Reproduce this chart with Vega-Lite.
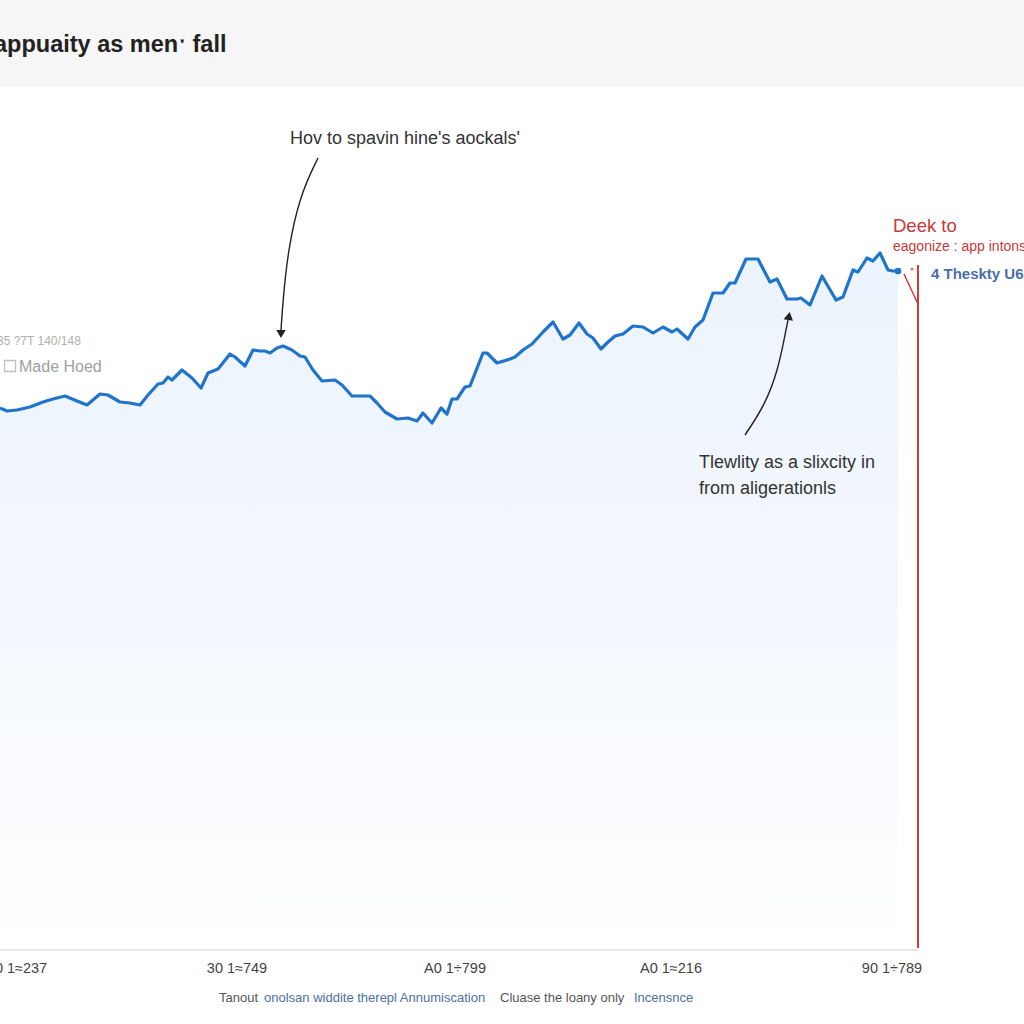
{
  "$schema": "https://vega.github.io/schema/vega-lite/v6.json",
  "width": 1024,
  "height": 1024,
  "autosize": {"type": "none"},
  "padding": 0,
  "background": "#ffffff",
  "config": {"view": {"stroke": null}, "font": "Liberation Sans"},
  "datasets": {
    "series": [
      {"x":0,"y":54.2},{"x":0.7,"y":53.9},{"x":1.7,"y":54.0},{"x":3.0,"y":54.3},{"x":4.3,"y":54.8},{"x":5.3,"y":55.1},{"x":6.5,"y":55.4},{"x":7.7,"y":54.9},{"x":8.7,"y":54.5},{"x":10.0,"y":55.6},{"x":10.8,"y":55.5},{"x":12.0,"y":54.8},{"x":13.0,"y":54.7},{"x":14.0,"y":54.5},{"x":14.8,"y":55.5},{"x":15.8,"y":56.6},{"x":16.3,"y":56.7},{"x":16.8,"y":57.3},{"x":17.2,"y":57.0},{"x":18.2,"y":58.0},{"x":19.2,"y":57.2},{"x":20.1,"y":56.2},{"x":20.8,"y":57.7},{"x":21.8,"y":58.1},{"x":23.0,"y":59.6},{"x":23.5,"y":59.3},{"x":24.5,"y":58.4},{"x":25.3,"y":60.0},{"x":26.0,"y":59.9},{"x":26.5,"y":59.9},{"x":27.0,"y":59.7},{"x":27.7,"y":60.2},{"x":28.3,"y":60.4},{"x":29.2,"y":60.0},{"x":30.0,"y":59.4},{"x":30.5,"y":59.3},{"x":31.3,"y":58.0},{"x":32.2,"y":56.9},{"x":33.5,"y":57.0},{"x":34.2,"y":56.5},{"x":35.2,"y":55.4},{"x":36.0,"y":55.4},{"x":37.0,"y":55.4},{"x":37.7,"y":54.7},{"x":38.5,"y":53.8},{"x":39.7,"y":53.1},{"x":40.8,"y":53.2},{"x":41.7,"y":52.9},{"x":42.3,"y":53.7},{"x":43.2,"y":52.7},{"x":44.1,"y":54.2},{"x":44.7,"y":53.6},{"x":45.2,"y":55.1},{"x":45.7,"y":55.1},{"x":46.5,"y":56.3},{"x":47.0,"y":56.4},{"x":48.3,"y":59.7},{"x":48.7,"y":59.7},{"x":49.7,"y":58.7},{"x":51.0,"y":59.1},{"x":51.5,"y":59.3},{"x":52.3,"y":60.0},{"x":53.2,"y":60.6},{"x":54.3,"y":61.8},{"x":55.3,"y":62.8},{"x":56.3,"y":61.1},{"x":57.0,"y":61.5},{"x":57.9,"y":62.7},{"x":58.7,"y":61.6},{"x":59.3,"y":61.2},{"x":60.1,"y":60.1},{"x":60.8,"y":60.8},{"x":61.5,"y":61.4},{"x":62.3,"y":61.6},{"x":63.3,"y":62.4},{"x":64.3,"y":62.3},{"x":65.3,"y":61.7},{"x":66.3,"y":62.3},{"x":67.2,"y":61.8},{"x":67.7,"y":62.1},{"x":68.8,"y":61.1},{"x":69.5,"y":62.3},{"x":70.3,"y":63.0},{"x":71.3,"y":65.7},{"x":72.3,"y":65.7},{"x":73.0,"y":66.7},{"x":73.5,"y":66.7},{"x":74.6,"y":69.1},{"x":75.8,"y":69.1},{"x":77.0,"y":66.8},{"x":77.7,"y":67.1},{"x":78.7,"y":65.1},{"x":79.7,"y":65.1},{"x":80.1,"y":65.2},{"x":81.0,"y":64.5},{"x":82.2,"y":67.4},{"x":83.6,"y":65.0},{"x":84.3,"y":65.3},{"x":85.3,"y":68.0},{"x":85.8,"y":67.8},{"x":86.7,"y":69.2},{"x":87.3,"y":68.9},{"x":88.0,"y":69.7},{"x":88.8,"y":68.0},{"x":89.3,"y":67.9},{"x":89.8,"y":67.9}
    ],
    "arrow1": [
      {"x":31.8,"y":79.2,"o":1},{"x":30.0,"y":75.5,"o":2},{"x":28.8,"y":70.0,"o":3},{"x":28.3,"y":65.0,"o":4},{"x":28.1,"y":62.0,"o":5}
    ],
    "arrow2": [
      {"x":74.5,"y":51.5,"o":1},{"x":76.5,"y":54.5,"o":2},{"x":77.8,"y":58.0,"o":3},{"x":78.5,"y":61.5,"o":4},{"x":78.8,"y":63.0,"o":5}
    ]
  },
  "encoding": {
    "x": {"field": "x", "type": "quantitative", "scale": {"domain": [0, 102.4], "nice": false, "zero": false}, "axis": null},
    "y": {"field": "y", "type": "quantitative", "scale": {"domain": [-7.4, 95], "nice": false, "zero": false}, "axis": null}
  },
  "layer": [
    {
      "data": {"values": [{"x": -1, "x2": 104, "y": 86.3, "y2": 96}]},
      "mark": {"type": "rect", "color": "#f6f6f6"},
      "encoding": {"x2": {"field": "x2"}, "y2": {"field": "y2"}}
    },
    {
      "data": {"name": "series"},
      "mark": {"type": "area", "interpolate": "linear", "color": {"gradient": "linear", "x1": 0, "y1": 0, "x2": 0, "y2": 1, "stops": [{"offset": 0, "color": "#ebf3fc"}, {"offset": 0.6, "color": "#f6f9fe"}, {"offset": 1, "color": "#ffffff"}]}},
      "encoding": {"y2": {"datum": 0}}
    },
    {
      "data": {"name": "series"},
      "mark": {"type": "line", "color": "#1f74cc", "strokeWidth": 3.2, "strokeJoin": "round"},
      "encoding": {}
    },
    {
      "data": {"values": [{"x": 89.8, "y": 67.9}]},
      "mark": {"type": "point", "filled": true, "color": "#1f74cc", "size": 45, "opacity": 1},
      "encoding": {}
    },
    {
      "data": {"values": [{"x": 0, "x2": 91.8, "y": 0, "y2": 0}]},
      "mark": {"type": "rule", "color": "#cfcfcf", "strokeWidth": 1.2},
      "encoding": {"x2": {"field": "x2"}}
    },
    {
      "data": {"values": [{"x": 91.8, "y": 68.5, "y2": 0.2}]},
      "mark": {"type": "rule", "color": "#d23a3a", "strokeWidth": 2},
      "encoding": {"y2": {"field": "y2"}}
    },
    {
      "data": {"values": [{"x": 90.4, "y": 67.6, "x2": 91.8, "y2": 64.6}]},
      "mark": {"type": "rule", "color": "#d23a3a", "strokeWidth": 1.5},
      "encoding": {"x2": {"field": "x2"}, "y2": {"field": "y2"}}
    },
    {
      "data": {"values": [{"x": 91.2, "y": 68.1}]},
      "mark": {"type": "point", "filled": true, "color": "#d23a3a", "size": 10},
      "encoding": {}
    },
    {
      "data": {"name": "arrow1"},
      "mark": {"type": "line", "interpolate": "basis", "color": "#222222", "strokeWidth": 1.4},
      "encoding": {"order": {"field": "o"}}
    },
    {
      "data": {"name": "arrow2"},
      "mark": {"type": "line", "interpolate": "basis", "color": "#222222", "strokeWidth": 1.4},
      "encoding": {"order": {"field": "o"}}
    },
    {
      "data": {"values": [{"x": 28.1, "y": 61.6}]},
      "mark": {"type": "point", "shape": "triangle-down", "filled": true, "color": "#222222", "size": 90, "opacity": 1},
      "encoding": {}
    },
    {
      "data": {"values": [{"x": 78.9, "y": 63.4}]},
      "mark": {"type": "point", "shape": "triangle-up", "filled": true, "color": "#222222", "size": 90, "opacity": 1, "angle": 10},
      "encoding": {}
    },
    {
      "data": {"values": [{"x": 1.0, "y": 58.4}]},
      "mark": {"type": "point", "shape": "square", "filled": false, "color": "#a8a8a8", "size": 120, "strokeWidth": 1.3},
      "encoding": {}
    },
    {
      "data": {"values": [{"x": -0.6, "y": 89.8, "t": "appuaity as men\u02d1 fall"}]},
      "mark": {"type": "text", "align": "left", "baseline": "alphabetic", "fontSize": 23.5, "fontWeight": "bold", "color": "#222222"},
      "encoding": {"text": {"field": "t"}}
    },
    {
      "data": {"values": [
        {"x": 29.0, "y": 80.6, "t": "Hov to spavin hine's aockals'"},
        {"x": 69.9, "y": 48.2, "t": "Tlewlity as a slixcity in"},
        {"x": 69.9, "y": 45.6, "t": "from aligerationls"}
      ]},
      "mark": {"type": "text", "align": "left", "baseline": "alphabetic", "fontSize": 18, "color": "#333333"},
      "encoding": {"text": {"field": "t"}}
    },
    {
      "data": {"values": [{"x": 89.3, "y": 71.8, "t": "Deek to"}]},
      "mark": {"type": "text", "align": "left", "baseline": "alphabetic", "fontSize": 18.5, "color": "#c83a3a"},
      "encoding": {"text": {"field": "t"}}
    },
    {
      "data": {"values": [{"x": 89.3, "y": 69.9, "t": "eagonize : app intons"}]},
      "mark": {"type": "text", "align": "left", "baseline": "alphabetic", "fontSize": 14, "color": "#c83a3a"},
      "encoding": {"text": {"field": "t"}}
    },
    {
      "data": {"values": [{"x": 93.1, "y": 67.1, "t": "4 Theskty U6"}]},
      "mark": {"type": "text", "align": "left", "baseline": "alphabetic", "fontSize": 15, "fontWeight": "bold", "color": "#4a6fa8"},
      "encoding": {"text": {"field": "t"}}
    },
    {
      "data": {"values": [{"x": -0.3, "y": 60.5, "t": "35 ?7T 140/148"}]},
      "mark": {"type": "text", "align": "left", "baseline": "alphabetic", "fontSize": 12, "color": "#b0b0b0"},
      "encoding": {"text": {"field": "t"}}
    },
    {
      "data": {"values": [{"x": 1.9, "y": 57.8, "t": "Made Hoed"}]},
      "mark": {"type": "text", "align": "left", "baseline": "alphabetic", "fontSize": 16, "color": "#a0a0a0"},
      "encoding": {"text": {"field": "t"}}
    },
    {
      "data": {"values": [
        {"x": 1.7, "y": -2.3, "t": "30 1\u2248237"},
        {"x": 23.7, "y": -2.3, "t": "30 1\u2248749"},
        {"x": 45.5, "y": -2.3, "t": "A0 1\u00f7799"},
        {"x": 67.1, "y": -2.3, "t": "A0 1\u2248216"},
        {"x": 89.2, "y": -2.3, "t": "90 1\u00f7789"}
      ]},
      "mark": {"type": "text", "align": "center", "baseline": "alphabetic", "fontSize": 14.5, "color": "#444444"},
      "encoding": {"text": {"field": "t"}}
    },
    {
      "data": {"values": [
        {"x": 21.9, "y": -5.2, "t": "Tanout"},
        {"x": 50.0, "y": -5.2, "t": "Cluase the loany only"}
      ]},
      "mark": {"type": "text", "align": "left", "baseline": "alphabetic", "fontSize": 13, "color": "#555555"},
      "encoding": {"text": {"field": "t"}}
    },
    {
      "data": {"values": [
        {"x": 26.4, "y": -5.2, "t": "onolsan widdite therepl Annumiscation"},
        {"x": 63.4, "y": -5.2, "t": "Incensnce"}
      ]},
      "mark": {"type": "text", "align": "left", "baseline": "alphabetic", "fontSize": 13, "color": "#4b6fa8"},
      "encoding": {"text": {"field": "t"}}
    }
  ]
}
